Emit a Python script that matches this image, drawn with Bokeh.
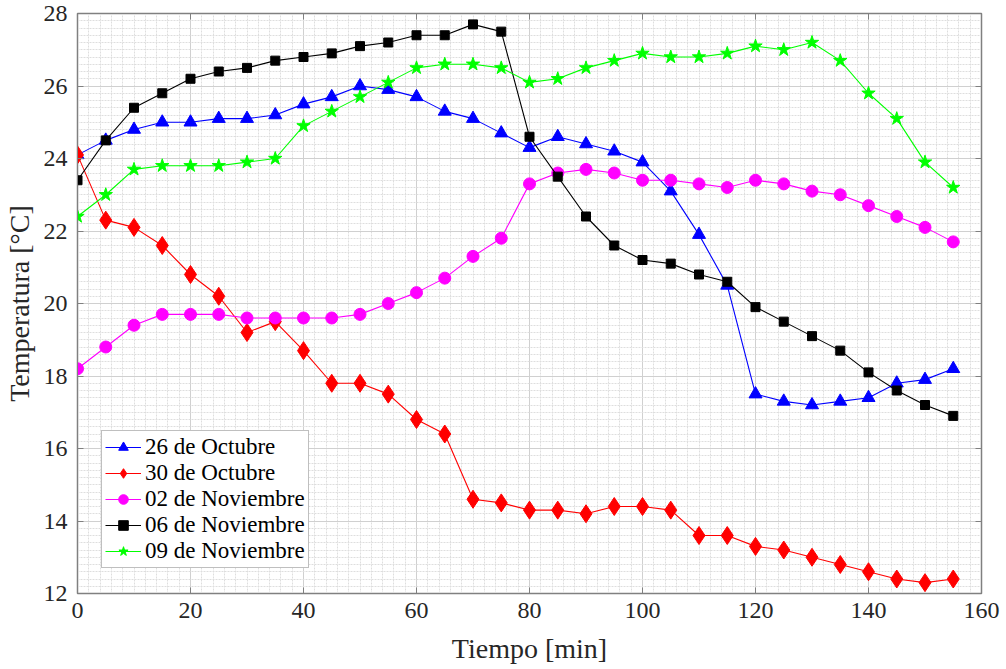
from bokeh.plotting import figure
from bokeh.models import Range1d, LinearAxis, Legend, LegendItem, SingleIntervalTicker, CustomJSTickFormatter
from bokeh.embed import file_html
from bokeh.resources import INLINE

tiempo = list(range(0, 160, 5))

oct26 = [24.1, 24.5, 24.8, 25.0, 25.0, 25.1, 25.1, 25.2, 25.5, 25.7, 26.0, 25.9, 25.7, 25.3, 25.1, 24.7,
         24.3, 24.6, 24.4, 24.2, 23.9, 23.1, 21.9, 20.5, 17.5, 17.3, 17.2, 17.3, 17.4, 17.8, 17.9, 18.2]
oct30 = [24.1, 22.3, 22.1, 21.6, 20.8, 20.2, 19.2, 19.5, 18.7, 17.8, 17.8, 17.5, 16.8, 16.4, 14.6, 14.5,
         14.3, 14.3, 14.2, 14.4, 14.4, 14.3, 13.6, 13.6, 13.3, 13.2, 13.0, 12.8, 12.6, 12.4, 12.3, 12.4]
nov02 = [18.2, 18.8, 19.4, 19.7, 19.7, 19.7, 19.6, 19.6, 19.6, 19.6, 19.7, 20.0, 20.3, 20.7, 21.3, 21.8,
         23.3, 23.6, 23.7, 23.6, 23.4, 23.4, 23.3, 23.2, 23.4, 23.3, 23.1, 23.0, 22.7, 22.4, 22.1, 21.7]
nov06 = [23.4, 24.5, 25.4, 25.8, 26.2, 26.4, 26.5, 26.7, 26.8, 26.9, 27.1, 27.2, 27.4, 27.4, 27.7, 27.5,
         24.6, 23.5, 22.4, 21.6, 21.2, 21.1, 20.8, 20.6, 19.9, 19.5, 19.1, 18.7, 18.1, 17.6, 17.2, 16.9]
nov09 = [22.4, 23.0, 23.7, 23.8, 23.8, 23.8, 23.9, 24.0, 24.9, 25.3, 25.7, 26.1, 26.5, 26.6, 26.6, 26.5,
         26.1, 26.2, 26.5, 26.7, 26.9, 26.8, 26.8, 26.9, 27.1, 27.0, 27.2, 26.7, 25.8, 25.1, 23.9, 23.2]

labels = ["26 de Octubre", "30 de Octubre", "02 de Noviembre", "06 de Noviembre", "09 de Noviembre"]
series = [oct26, oct30, nov02, nov06, nov09]
colors = ["#0000ff", "#ff0000", "#ff00ff", "#000000", "#00ff00"]
markers = ["triangle", "diamond", "circle", "square", "star"]
sizes = [13, 18, 12, 9, 14]

FONT = "'Liberation Serif', 'Times New Roman', serif"
AXC = "#808080"

p = figure(width=1006, height=669, output_backend="svg", toolbar_location=None,
           x_range=Range1d(0, 160), y_range=Range1d(12, 28),
           min_border_left=77, min_border_right=25, min_border_top=13, min_border_bottom=76)
p.outline_line_color = AXC
p.outline_line_width = 1.5

for ax in (p.xaxis[0], p.yaxis[0]):
    ax.major_label_text_font = FONT
    ax.major_label_text_font_size = "24px"
    ax.major_label_text_color = "#262626"
    ax.axis_label_text_font = FONT
    ax.axis_label_text_font_size = "28px"
    ax.axis_label_text_font_style = "normal"
    ax.axis_label_text_color = "#262626"
    ax.axis_line_color = AXC
    ax.major_tick_line_color = AXC
    ax.minor_tick_line_color = None
    ax.major_tick_in = 6
    ax.major_tick_out = 0

p.xaxis[0].ticker = SingleIntervalTicker(interval=20, num_minor_ticks=10)
p.yaxis[0].ticker = SingleIntervalTicker(interval=2, num_minor_ticks=10)
p.xaxis[0].axis_label = "Tiempo [min]"
p.yaxis[0].axis_label = "Temperatura [°C]"
p.xaxis[0].major_label_standoff = 5
p.yaxis[0].major_label_standoff = 6
p.xaxis[0].axis_label_standoff = 12
p.yaxis[0].axis_label_standoff = 6

for loc, interval in (("above", 20), ("right", 2)):
    ax = LinearAxis(ticker=SingleIntervalTicker(interval=interval, num_minor_ticks=10),
                    formatter=CustomJSTickFormatter(code="return ''"))
    ax.major_label_standoff = 0
    ax.axis_line_color = AXC
    ax.major_tick_line_color = AXC
    ax.minor_tick_line_color = None
    ax.major_tick_in = 6
    ax.major_tick_out = 0
    p.add_layout(ax, loc)

p.xgrid.grid_line_color = "#d0d0d0"
p.ygrid.grid_line_color = "#d0d0d0"
p.xgrid.minor_grid_line_color = "#dedede"
p.ygrid.minor_grid_line_color = "#dedede"
p.xgrid.minor_grid_line_dash = "2 1"
p.ygrid.minor_grid_line_dash = "2 1"

items = []
for lab, ys, c, m, s in zip(labels, series, colors, markers, sizes):
    r1 = p.line(tiempo, ys, line_color=c, line_width=1.1)
    r2 = p.scatter(tiempo, ys, marker=m, size=s, fill_color=c, line_color=c)
    items.append(LegendItem(label=lab, renderers=[r1, r2]))

legend = Legend(items=items, location=(24, 25))
legend.label_text_font = FONT
legend.label_text_font_size = "23px"
legend.label_text_color = "#000000"
legend.border_line_color = AXC
legend.border_line_width = 1.2
legend.background_fill_color = "white"
legend.background_fill_alpha = 1
legend.glyph_width = 36
legend.glyph_height = 24
legend.spacing = 0
legend.padding = 3
legend.margin = 0
legend.label_standoff = 4
legend.label_height = 24
p.add_layout(legend, "center")

open("out.html", "w").write(file_html(p, INLINE))
